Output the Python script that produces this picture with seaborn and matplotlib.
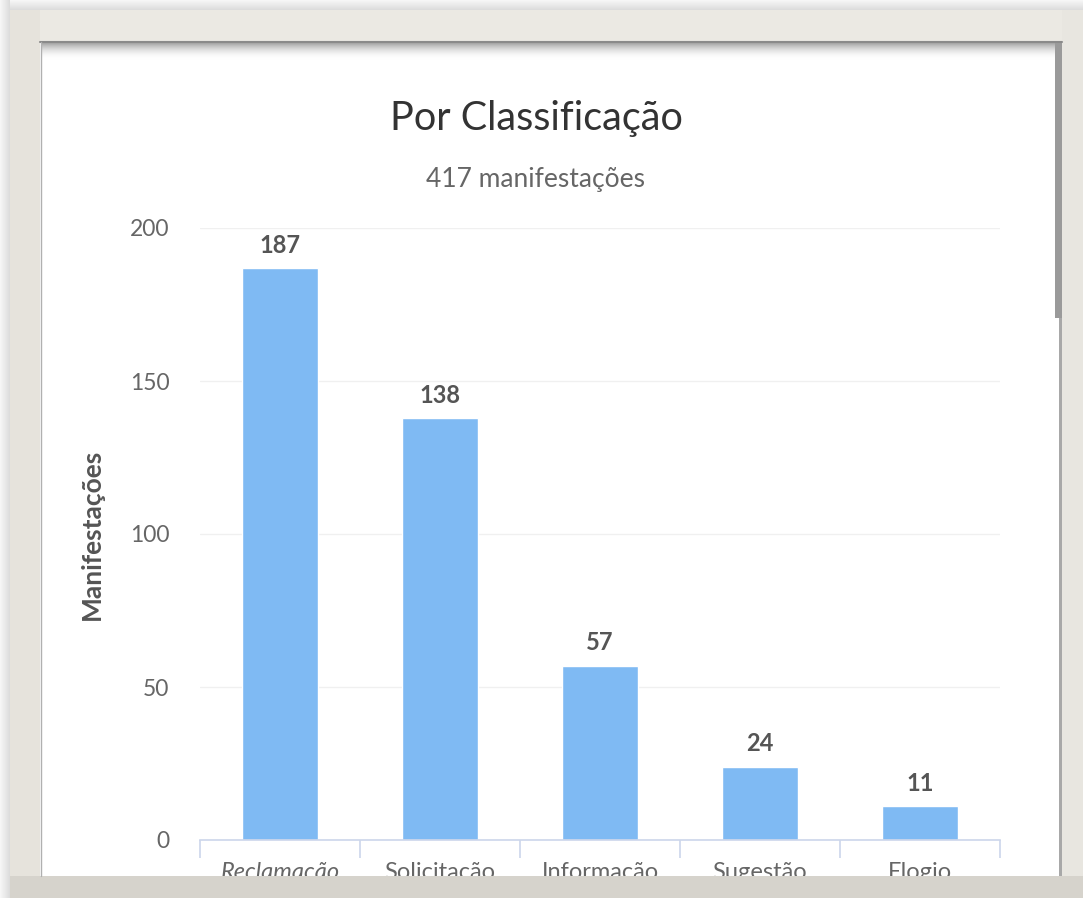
import matplotlib
matplotlib.use('Agg')
import matplotlib.pyplot as plt
from matplotlib.patches import Rectangle
import numpy as np
import pandas as pd
import seaborn as sns

categorias = ["Reclamação", "Solicitação", "Informação", "Sugestão", "Elogio"]
valores = [187, 138, 57, 24, 11]
y_ticks = [0, 50, 100, 150, 200]
titulo = "Por Classificação"
subtitulo = "417 manifestações"
y_titulo = "Manifestações"

sns.set_theme(style='white')
plt.rcParams['font.family'] = ['Lato', 'DejaVu Sans']

W, H = 1083, 898
fig = plt.figure(figsize=(W / 100, H / 100), dpi=100)
fig.patch.set_facecolor('white')

df = pd.DataFrame({'cat': categorias, 'n': valores})

# plot area in pixels: x 200-1000, y 228-840
ax = fig.add_axes([200 / W, (H - 840) / H, 800 / W, 612 / H])
sns.barplot(data=df, x='cat', y='n', color='#7fbaf3', saturation=1, width=0.47, ax=ax)
ax.set_xlim(-0.5, len(categorias) - 0.5)
ax.set_ylim(0, 200)
ax.set_yticks(y_ticks)
ax.grid(axis='y', color='#f0f0f0', linewidth=1)
ax.set_axisbelow(True)
for s in ['top', 'right', 'left']:
    ax.spines[s].set_visible(False)
ax.spines['bottom'].set_color('#ccd6eb')
ax.spines['bottom'].set_linewidth(1.2)

ax.tick_params(axis='y', length=0, pad=22, labelsize=16.5, labelcolor='#666666')
ax.tick_params(axis='x', which='major', length=0, pad=16, labelsize=17, labelcolor='#666666')
ax.set_xticks(np.arange(-0.5, len(categorias)), minor=True)
ax.tick_params(axis='x', which='minor', bottom=True, length=13, color='#ccd6eb', width=1.2, direction='out')
ax.set_xlabel('')
ax.set_ylabel(y_titulo, fontsize=19, fontweight='bold', color='#555555')
ax.yaxis.set_label_coords(-0.12, 0.5)
for lbl in ax.get_xticklabels():
    if lbl.get_text() == "Reclamação":
        lbl.set_fontstyle('italic')

ax.bar_label(ax.containers[0], padding=8, fontsize=17, fontweight='bold', color='#555555')

fig.text(536 / W, (H - 130) / H, titulo, ha='center', va='baseline', fontsize=28.5, color='#333333')
fig.text(536 / W, (H - 187) / H, subtitulo, ha='center', va='baseline', fontsize=19, color='#666666')

# screenshot frame drawn over everything
fr = fig.add_axes([0, 0, 1, 1], zorder=10)
fr.set_xlim(0, W)
fr.set_ylim(H, 0)
fr.axis('off')
fr.patch.set_alpha(0)
beige = '#e6e3dc'
# outer soft shadow
fr.imshow(np.linspace(0.97, 0.86, 50).reshape(-1, 1), cmap='gray', vmin=0, vmax=1,
          extent=[0, W, 10, 0], aspect='auto')
fr.imshow(np.linspace(0.97, 0.86, 50).reshape(1, -1), cmap='gray', vmin=0, vmax=1,
          extent=[0, 10, H, 0], aspect='auto')
fr.add_patch(Rectangle((10, 10), W - 10, 32, color='#ebe9e3', lw=0))
fr.add_patch(Rectangle((10, 10), 30, H - 10, color=beige, lw=0))
fr.add_patch(Rectangle((1062, 10), W - 1062, H - 10, color='#e8e6e0', lw=0))
fr.add_patch(Rectangle((10, 876), W - 10, H - 876, color='#d6d3cc', lw=0))
# inner edges
fr.plot([40, 1062], [42, 42], color='#8a8a8a', lw=1.5)
fr.plot([41, 41], [42, 876], color='#b0b0b0', lw=1)
fr.imshow(np.linspace(0, 1, 30).reshape(-1, 1), cmap='gray', vmin=0, vmax=1,
          alpha=np.linspace(0.35, 0, 30).reshape(-1, 1),
          extent=[42, 1055, 60, 43], aspect='auto')
fr.add_patch(Rectangle((1055, 42), 7, 276, color='#9a9a9a', lw=0))
fr.add_patch(Rectangle((1059, 318), 3, 558, color='#a8a8a8', lw=0))
fr.set_xlim(0, W)
fr.set_ylim(H, 0)

fig.savefig('out.png', dpi=100)
